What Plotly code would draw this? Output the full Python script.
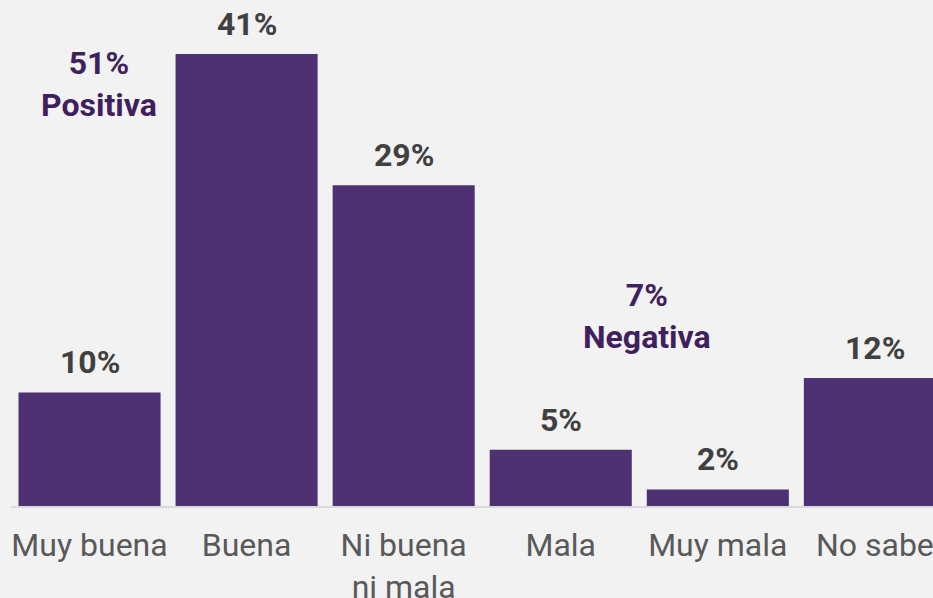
import plotly.graph_objects as go

# categories and values
categories = ["Muy buena", "Buena", "Ni buena<br>ni mala", "Mala", "Muy mala", "No sabe"]
values = [10.3, 41.0, 29.1, 5.1, 1.5, 11.6]
value_labels = ["10%", "41%", "29%", "5%", "2%", "12%"]

group_labels = ["51%<br>Positiva", "7%<br>Negativa"]
group_x = [0.06, 3.55]
group_y = [38.3, 17.2]

BAR = "#4E3173"
GROUP = "#3F1F5E"
BG = "#F2F2F2"

fig = go.Figure()

fig.add_trace(go.Bar(
    x=list(range(len(categories))),
    y=values,
    marker=dict(color=BAR, line=dict(width=0)),
    hoverinfo="skip",
))

# value labels above each bar
for i, (v, t) in enumerate(zip(values, value_labels)):
    fig.add_annotation(
        x=i, y=v, text=f"<b>{t}</b>", showarrow=False,
        yanchor="middle", yshift=30,
        font=dict(family="Roboto", size=32, color="#404040"),
    )

# group summaries
for x, y, t in zip(group_x, group_y, group_labels):
    fig.add_annotation(
        x=x, y=y, text=f"<b>{t}</b>", showarrow=False,
        xanchor="center", yanchor="middle",
        font=dict(family="Roboto", size=32, color=GROUP),
    )

fig.update_layout(
    width=933, height=598,
    bargap=0.0955,
    showlegend=False,
    paper_bgcolor=BG,
    plot_bgcolor=BG,
    margin=dict(l=11, r=0, t=0, b=92),
    font=dict(family="Roboto"),
    xaxis=dict(
        tickmode="array",
        tickvals=list(range(len(categories))),
        ticktext=categories,
        range=[-0.5, 5.37],
        automargin=False,
        ticklabeloverflow="allow",
        showgrid=False,
        zeroline=False,
        showline=True,
        linecolor="#D9D9D9",
        linewidth=2,
        ticks="",
        ticklabelstandoff=10,
        tickfont=dict(family="Roboto", size=32, color="#595959"),
    ),
    yaxis=dict(
        range=[0, 45.9],
        visible=False,
        showgrid=False,
        zeroline=False,
    ),
)

fig.write_html(
    "out.html",
    config={"displayModeBar": False},
    post_script="document.body.style.margin='0';document.body.style.padding='0';",
)
